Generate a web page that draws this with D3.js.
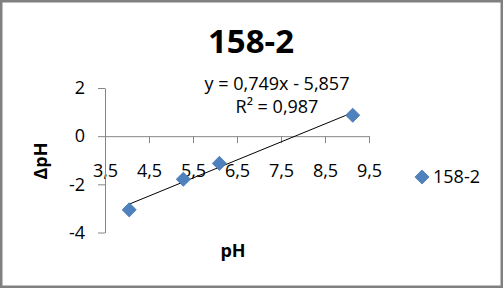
<!DOCTYPE html>
<html>
<head>
<meta charset="utf-8">
<script src="https://cdn.jsdelivr.net/npm/d3@7"></script>
<style>
  body { margin: 0; background: #fff; }
  text { font-family: "Open Sans", sans-serif; fill: #000; }
</style>
</head>
<body>
<svg id="chart" width="503" height="288"></svg>
<script>
// measured points
const PH = [4.05, 5.28, 6.1, 9.13];
const DELTA_PH = [-3.06, -1.79, -1.13, 0.87];
const SERIES_NAME = "158-2";
const X_TICKS = [3.5, 4.5, 5.5, 6.5, 7.5, 8.5, 9.5];
const Y_TICKS = [-4, -2, 0, 2];
// trend line coefficients as printed on the chart
const TREND = [0.749, -5.857];
const TREND_LABELS = ["y = 0,749x - 5,857", "R² = 0,987"];

const data = PH.map((x, i) => ({ x, y: DELTA_PH[i] }));
const svg = d3.select("#chart");
const axisColor = "#868686";
const markerColor = "#4f81bd";
const fmt = (d) => String(d).replace(".", ",");

// outer frame
svg
  .append("rect")
  .attr("x", 1.25)
  .attr("y", 1.25)
  .attr("width", 500.5)
  .attr("height", 285.5)
  .attr("fill", "#fff")
  .attr("stroke", "#808080")
  .attr("stroke-width", 2.5);

const xScale = d3.scaleLinear().domain([3.5, 9.5]).range([105, 369]);
const yScale = d3.scaleLinear().domain([-4, 2]).range([232.5, 88]);

// x axis crossing at y = 0
const gx = svg
  .append("g")
  .attr("class", "axis axis-x")
  .attr("transform", `translate(0, ${yScale(0)})`)
  .call(
    d3.axisBottom(xScale).tickValues(X_TICKS).tickSize(7).tickSizeOuter(0).tickFormat(fmt)
  );
gx.selectAll("text").attr("y", 35).attr("dy", "0.35em");

// y axis
const gy = svg
  .append("g")
  .attr("class", "axis axis-y")
  .attr("transform", `translate(${xScale(3.5)}, 0)`)
  .call(
    d3.axisLeft(yScale).tickValues(Y_TICKS).tickSize(7).tickSizeOuter(0).tickPadding(13).tickFormat(fmt)
  );

svg.selectAll(".axis path, .axis line").attr("stroke", axisColor);
svg
  .selectAll(".axis text")
  .attr("fill", "#000")
  .style("font-size", "18px")
  .style("font-family", '"Open Sans", sans-serif');

// trend line
const xExt = d3.extent(PH);
svg
  .append("path")
  .datum(xExt.map((x) => ({ x, y: TREND[0] * x + TREND[1] })))
  .attr("fill", "none")
  .attr("stroke", "#000")
  .attr("stroke-width", 1)
  .attr(
    "d",
    d3
      .line()
      .x((d) => xScale(d.x))
      .y((d) => yScale(d.y))
  );

// diamond markers
const diamond = d3.symbol().type(d3.symbolSquare).size(100);
svg
  .selectAll(".pt")
  .data(data)
  .join("path")
  .attr("class", "pt")
  .attr("d", diamond)
  .attr("transform", (d) => `translate(${xScale(d.x)}, ${yScale(d.y)}) rotate(45)`)
  .attr("fill", markerColor)
  .attr("stroke", "#4677b3")
  .attr("stroke-width", 0.75);

// title
svg
  .append("text")
  .attr("x", 251)
  .attr("y", 53)
  .attr("text-anchor", "middle")
  .style("font-size", "33px")
  .style("font-weight", "bold")
  .text(SERIES_NAME);

// trend equation
TREND_LABELS.forEach((t, i) => {
  svg
    .append("text")
    .attr("x", 277)
    .attr("y", 90 + i * 23)
    .attr("text-anchor", "middle")
    .style("font-size", "18px")
    .text(t);
});

// axis titles
svg
  .append("text")
  .attr("x", 233)
  .attr("y", 257)
  .attr("text-anchor", "middle")
  .style("font-size", "18px")
  .style("font-weight", "bold")
  .text("pH");

svg
  .append("text")
  .attr("transform", "translate(47, 161) rotate(-90)")
  .attr("text-anchor", "middle")
  .style("font-size", "18px")
  .style("font-weight", "bold")
  .text("ΔpH");

// legend
const legend = svg.append("g").attr("transform", "translate(422, 177)");
legend
  .append("path")
  .attr("d", diamond)
  .attr("transform", "rotate(45)")
  .attr("fill", markerColor)
  .attr("stroke", "#4677b3")
  .attr("stroke-width", 0.75);
legend
  .append("text")
  .attr("x", 11)
  .attr("y", 6)
  .style("font-size", "18px")
  .text(SERIES_NAME);
</script>
</body>
</html>
